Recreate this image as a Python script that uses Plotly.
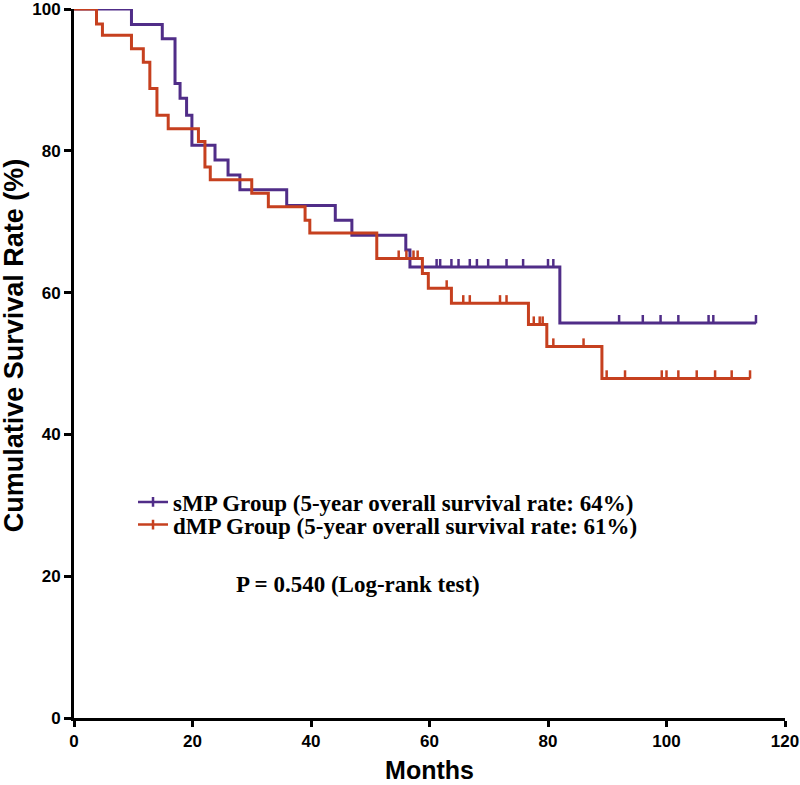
import plotly.graph_objects as go

# --- Data ---
smp_times = [9.7, 14.9, 17.05, 17.9, 19.0, 19.9, 23.8, 26.0, 28.0, 35.9, 44.1, 46.9, 56.0, 56.7, 82.0]
smp_surv = [97.8, 95.8, 89.5, 87.4, 85.0, 80.8, 78.7, 76.6, 74.5, 72.3, 70.2, 68.1, 66.0, 63.6, 55.7]
smp_censor = [61.2, 61.8, 63.7, 64.9, 66.8, 68.0, 69.9, 73.0, 75.8, 80.0, 80.9,
              92.0, 96.0, 99.0, 102.0, 107.1, 107.9, 115.1]
smp_end = 115.1

dmp_times = [3.8, 4.8, 9.7, 11.7, 12.8, 14.0, 15.9, 21.0, 22.1, 23.0, 30.0, 32.8, 39.0, 39.8,
             51.1, 58.8, 59.8, 63.7, 76.7, 79.8, 89.1]
dmp_surv = [97.9, 96.3, 94.4, 92.5, 88.8, 85.0, 83.1, 81.3, 77.7, 75.9, 74.0, 72.1, 70.2, 68.4,
            64.8, 62.7, 60.6, 58.5, 55.5, 52.4, 47.9]
dmp_censor = [54.8, 56.1, 57.3, 58.0, 62.9, 65.7, 66.8, 71.9, 73.0, 77.6, 78.6, 79.1, 80.9,
              86.0, 89.9, 93.0, 99.2, 100.0, 102.0, 105.1, 108.2, 111.0, 114.1]
dmp_end = 114.1

x_ticks = [0, 20, 40, 60, 80, 100, 120]
y_ticks = [0, 20, 40, 60, 80, 100]

names = ["sMP Group (5-year overall survival rate: 64%)",
         "dMP Group (5-year overall survival rate: 61%)"]
p_text = "P = 0.540 (Log-rank test)"
x_title = "Months"
y_title = "Cumulative Survival Rate (%)"

PURPLE = "#502d88"
RED = "#c6401f"
SANS = "Liberation Sans Narrow, Liberation Sans, Arial"
SERIF = "Liberation Serif, Times New Roman"


def surv_at(t, times, surv):
    s = 100.0
    for ti, si in zip(times, surv):
        if ti <= t:
            s = si
    return s


fig = go.Figure()

groups = [
    (smp_times, smp_surv, smp_censor, smp_end, PURPLE),
    (dmp_times, dmp_surv, dmp_censor, dmp_end, RED),
]

for times, surv, cens, end, col in groups:
    xs = [0] + times + [end]
    ys = [100] + surv + [surv[-1]]
    fig.add_trace(go.Scatter(x=xs, y=ys, mode="lines", line=dict(color=col, width=3, shape="hv"),
                             showlegend=False, cliponaxis=False, hoverinfo="skip"))
    cy = [surv_at(t, times, surv) + 0.55 for t in cens]
    fig.add_trace(go.Scatter(x=cens, y=cy, mode="markers",
                             marker=dict(symbol="line-ns", size=6, line=dict(color=col, width=2.5)),
                             showlegend=False, cliponaxis=False, hoverinfo="skip"))

for col, nm, lg in [(PURPLE, names[0], "legend"), (RED, names[1], "legend2")]:
    fig.add_trace(go.Scatter(x=[None], y=[None], mode="lines+markers", name=nm, legend=lg,
                             line=dict(color=col, width=2.5),
                             marker=dict(symbol="line-ns", size=7, line=dict(color=col, width=2.5))))

fig.add_annotation(x=47.9, y=18.9, text=p_text, showarrow=False, xref="x", yref="y",
                   font=dict(family=SERIF, size=23, color="black", weight="bold"))

fig.add_annotation(x=-0.085, y=0.525, xref="paper", yref="paper", text=y_title, textangle=-90,
                   showarrow=False, xanchor="center", yanchor="middle",
                   font=dict(family="Liberation Sans", size=27, color="black", weight="bold"))

leg_font = dict(family=SERIF, size=23, color="black", weight="bold")
fig.update_layout(
    width=800, height=785,
    margin=dict(l=74, r=15, t=9, b=67),
    paper_bgcolor="white", plot_bgcolor="white",
    showlegend=True,
    legend=dict(x=0.083, y=0.335, xanchor="left", yanchor="top",
                bgcolor="rgba(0,0,0,0)", font=leg_font, itemwidth=30),
    legend2=dict(x=0.083, y=0.303, xanchor="left", yanchor="top",
                 bgcolor="rgba(0,0,0,0)", font=leg_font, itemwidth=30),
    xaxis=dict(range=[0, 120], tickvals=x_ticks, ticks="outside", ticklen=6, tickwidth=3,
               tickcolor="black", showline=True, linecolor="black", linewidth=3,
               showgrid=False, zeroline=False, ticklabeloverflow="allow", automargin=False,
               tickfont=dict(family=SANS, size=17, color="black", weight="bold"),
               title=dict(text=x_title, standoff=12,
                          font=dict(family="Liberation Sans", size=25, color="black", weight="bold"))),
    yaxis=dict(range=[0, 100], tickvals=y_ticks, ticks="outside", ticklen=7, tickwidth=3,
               tickcolor="black", showline=True, linecolor="black", linewidth=3,
               showgrid=False, zeroline=False, ticklabeloverflow="allow", automargin=False,
               tickfont=dict(family=SANS, size=17, color="black", weight="bold")),
)

fig.write_html("out.html", config={"displayModeBar": False},
               post_script="document.body.style.margin='0';")
